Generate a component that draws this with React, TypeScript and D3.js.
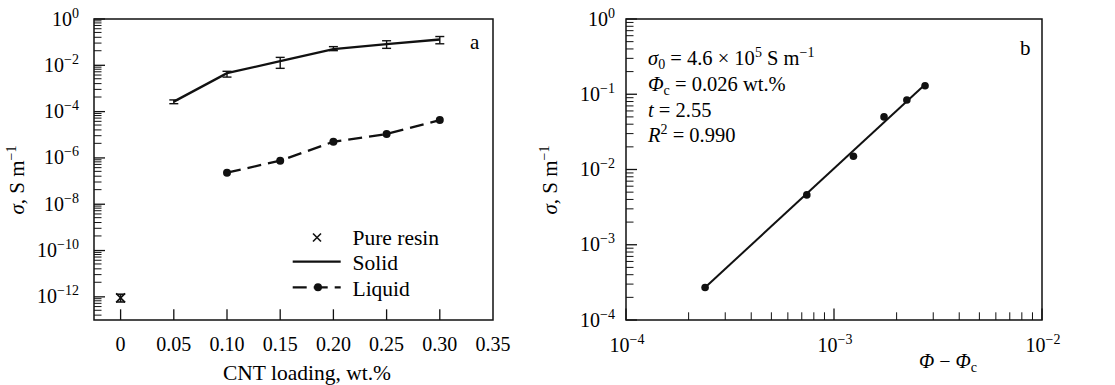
import React from "react";
import * as d3 from "d3";

// ---- Panel a: conductivity vs CNT loading ----
const loading = [0.05, 0.1, 0.15, 0.2, 0.25, 0.3];
const solidSigma = [2.7e-4, 4.6e-3, 1.5e-2, 5.0e-2, 8.3e-2, 1.3e-1];
const solidUpper = [3.2e-4, 5.5e-3, 2.2e-2, 6.4e-2, 1.15e-1, 1.75e-1];
const solidLower = [2.2e-4, 3.1e-3, 7.4e-3, 4.3e-2, 5.4e-2, 8.5e-2];

const liquidLoading = [0.1, 0.15, 0.2, 0.25, 0.3];
const liquidSigma = [2.3e-7, 7.6e-7, 5.0e-6, 1.08e-5, 4.3e-5];

const resinLoading = [0];
const resinSigma = [9e-13];
const resinUpper = [1.3e-12];
const resinLower = [6e-13];

const xTicksA = [0, 0.05, 0.1, 0.15, 0.2, 0.25, 0.3, 0.35];
const xTickLabelsA = ["0", "0.05", "0.10", "0.15", "0.20", "0.25", "0.30", "0.35"];
const yExpA = [0, -2, -4, -6, -8, -10, -12];
// minor tick offsets (in decades) below each labelled decade
const minorOffsetsA = [0.08, 0.17, 0.28, 0.42, 0.58, 0.79, 1.04, 1.37];

const legendLabels = ["Pure resin", "Solid", "Liquid"];

// ---- Panel b: percolation fit ----
const excess = [2.4e-4, 7.4e-4, 1.24e-3, 1.74e-3, 2.24e-3, 2.74e-3];
const sigmaB = [2.7e-4, 4.6e-3, 1.5e-2, 5.0e-2, 8.4e-2, 1.3e-1];
const sigma0 = 4.6e5;
const tExp = 2.55;
const yExpB = [0, -1, -2, -3, -4];
const xExpB = [-4, -3, -2];

const FONT = "Liberation Serif";
const TICK = 20;
const TITLE = 21;
const SUP = 14;

const xA = d3.scaleLinear().domain([-0.025, 0.35]).range([94, 493]);
const yA = d3.scaleLog().domain([1e-13, 1]).range([320, 19]);
const xB = d3.scaleLog().domain([1e-4, 1e-2]).range([626, 1042]);
const yB = d3.scaleLog().domain([1e-4, 1]).range([320, 19]);

function Pow10({ x, y, exp, anchor }: { x: number; y: number; exp: number; anchor: string }) {
  const e = exp < 0 ? "\u2212" + Math.abs(exp) : String(exp);
  return (
    <text x={x} y={y} textAnchor={anchor} fontFamily={FONT} fontSize={TICK}>
      10
      <tspan dy={-8} fontSize={SUP}>{e}</tspan>
    </text>
  );
}

export default function App() {
  const solidLine = d3
    .line<number>()
    .x((_, i) => xA(loading[i]))
    .y((d) => yA(d));
  const liquidLine = d3
    .line<number>()
    .x((_, i) => xA(liquidLoading[i]))
    .y((d) => yA(d));

  const minorA: number[] = [];
  yExpA.forEach((e) => {
    minorOffsetsA.forEach((o) => {
      const v = Math.pow(10, e - o);
      if (v > 1e-13) minorA.push(v);
    });
  });

  const minorYB: number[] = [];
  for (let e = -4; e < 0; e++) for (let m = 2; m <= 9; m++) minorYB.push(m * Math.pow(10, e));
  const minorXB: number[] = [];
  for (let e = -4; e < -2; e++) for (let m = 2; m <= 9; m++) minorXB.push(m * Math.pow(10, e));

  const fitX = [excess[0], excess[excess.length - 1]];
  const fitY = fitX.map((x) => sigma0 * Math.pow(x, tExp));

  const cap = 4.5;
  const rx = xA(resinLoading[0]);
  const ry = yA(resinSigma[0]);

  return (
    <svg width={1115} height={385} style={{ position: "absolute", left: 0, top: 0, background: "#fff" }}>
      <rect x={0} y={0} width={1115} height={385} fill="#fff" />
      {/* ===== Panel a ===== */}
      <g stroke="#111" fill="none">
        <path d="M94,19 H493 V320 H94 Z" strokeWidth={1.5} />
        {yExpA.map((e) => (
          <line key={"ma" + e} x1={94} x2={105} y1={yA(Math.pow(10, e))} y2={yA(Math.pow(10, e))} strokeWidth={1.3} />
        ))}
        {minorA.map((v, i) => (
          <line key={"na" + i} x1={94} x2={101.5} y1={yA(v)} y2={yA(v)} strokeWidth={1} />
        ))}
        {xTicksA.slice(0, -1).map((v) => (
          <line key={"xa" + v} x1={xA(v)} x2={xA(v)} y1={320} y2={309.3} strokeWidth={1.3} />
        ))}
      </g>
      {xTicksA.map((v, i) => (
        <text key={"xl" + v} x={xA(v)} y={351} textAnchor="middle" fontFamily={FONT} fontSize={TICK}>
          {xTickLabelsA[i]}
        </text>
      ))}
      {yExpA.map((e) => (
        <Pow10 key={"yl" + e} x={79} y={yA(Math.pow(10, e)) + 6.5} exp={e} anchor="end" />
      ))}
      <text x={307} y={380} textAnchor="middle" fontFamily={FONT} fontSize={21.5}>
        CNT loading, wt.%
      </text>
      <text transform="translate(24,180) rotate(-90)" textAnchor="middle" fontFamily={FONT} fontSize={TITLE}>
        <tspan fontStyle="italic">σ</tspan>, S m<tspan dy={-8} fontSize={SUP}>−1</tspan>
      </text>
      <text x={470} y={49} fontFamily={FONT} fontSize={21}>a</text>

      {/* solid series with error bars */}
      <path d={solidLine(solidSigma) || ""} stroke="#111" strokeWidth={2.3} fill="none" />
      {loading.map((v, i) => (
        <g key={"eb" + i} stroke="#111" strokeWidth={1.4}>
          <line x1={xA(v)} x2={xA(v)} y1={yA(solidUpper[i])} y2={yA(solidLower[i])} />
          <line x1={xA(v) - cap} x2={xA(v) + cap} y1={yA(solidUpper[i])} y2={yA(solidUpper[i])} />
          <line x1={xA(v) - cap} x2={xA(v) + cap} y1={yA(solidLower[i])} y2={yA(solidLower[i])} />
        </g>
      ))}

      {/* liquid series */}
      <path d={liquidLine(liquidSigma) || ""} stroke="#111" strokeWidth={2.3} fill="none" strokeDasharray="14,7" />
      {liquidLoading.map((v, i) => (
        <circle key={"lq" + i} cx={xA(v)} cy={yA(liquidSigma[i])} r={4} fill="#111" />
      ))}

      {/* pure resin */}
      {resinLoading.map((v, i) => (
        <g key={"rs" + i} stroke="#111" strokeWidth={1.6}>
          <line x1={xA(v)} x2={xA(v)} y1={yA(resinUpper[i])} y2={yA(resinLower[i])} />
          <line x1={xA(v) - cap} x2={xA(v) + cap} y1={yA(resinUpper[i])} y2={yA(resinUpper[i])} />
          <line x1={xA(v) - cap} x2={xA(v) + cap} y1={yA(resinLower[i])} y2={yA(resinLower[i])} />
          <path d={`M${rx - 4.5},${ry - 4.5} L${rx + 4.5},${ry + 4.5} M${rx - 4.5},${ry + 4.5} L${rx + 4.5},${ry - 4.5}`} />
        </g>
      ))}

      {/* legend */}
      <g stroke="#111" strokeWidth={1.6}>
        <path d="M313,233.5 L321,241.5 M313,241.5 L321,233.5" />
      </g>
      <line x1={292.7} x2={340.7} y1={261.7} y2={261.7} stroke="#111" strokeWidth={2.3} />
      <line x1={292.7} x2={340.7} y1={287.3} y2={287.3} stroke="#111" strokeWidth={2.3} strokeDasharray="14,7" />
      <circle cx={318} cy={287.3} r={4} fill="#111" />
      {legendLabels.map((t, i) => (
        <text key={t} x={352.5} y={244.5 + i * 25.5} fontFamily={FONT} fontSize={21.5}>
          {t}
        </text>
      ))}

      {/* ===== Panel b ===== */}
      <g stroke="#111" fill="none">
        <path d="M626,19 H1042 V320 H626 Z" strokeWidth={1.5} />
        {yExpB.map((e) => (
          <line key={"mb" + e} x1={626} x2={637} y1={yB(Math.pow(10, e))} y2={yB(Math.pow(10, e))} strokeWidth={1.3} />
        ))}
        {minorYB.map((v, i) => (
          <line key={"nb" + i} x1={626} x2={633.5} y1={yB(v)} y2={yB(v)} strokeWidth={1} />
        ))}
        {xExpB.map((e) => (
          <line key={"xb" + e} x1={xB(Math.pow(10, e))} x2={xB(Math.pow(10, e))} y1={320} y2={308.5} strokeWidth={1.3} />
        ))}
        {minorXB.map((v, i) => (
          <line key={"nxb" + i} x1={xB(v)} x2={xB(v)} y1={320} y2={312.3} strokeWidth={1} />
        ))}
      </g>
      {yExpB.map((e) => (
        <Pow10 key={"ylb" + e} x={615} y={yB(Math.pow(10, e)) + 6.5} exp={e} anchor="end" />
      ))}
      {xExpB.map((e) => (
        <Pow10 key={"xlb" + e} x={xB(Math.pow(10, e)) + 1} y={351.5} exp={e} anchor="middle" />
      ))}
      <text x={948} y={368} textAnchor="middle" fontFamily={FONT} fontSize={TICK}>
        <tspan fontStyle="italic">Φ</tspan> − <tspan fontStyle="italic">Φ</tspan>
        <tspan dy={4} fontSize={SUP}>c</tspan>
      </text>
      <text transform="translate(557,180) rotate(-90)" textAnchor="middle" fontFamily={FONT} fontSize={TITLE}>
        <tspan fontStyle="italic">σ</tspan>, S m<tspan dy={-8} fontSize={SUP}>−1</tspan>
      </text>
      <text x={1020} y={55} fontFamily={FONT} fontSize={21}>b</text>

      <g fontFamily={FONT} fontSize={20.5}>
        <text x={648} y={65}>
          <tspan fontStyle="italic">σ</tspan>
          <tspan dy={4} fontSize={SUP}>0</tspan>
          <tspan dy={-4}> = 4.6 × 10</tspan>
          <tspan dy={-8} fontSize={SUP}>5</tspan>
          <tspan dy={8}> S m</tspan>
          <tspan dy={-8} fontSize={SUP}>−1</tspan>
        </text>
        <text x={648} y={90.7}>
          <tspan fontStyle="italic">Φ</tspan>
          <tspan dy={4} fontSize={SUP}>c</tspan>
          <tspan dy={-4}> = 0.026 wt.%</tspan>
        </text>
        <text x={648} y={116.7}>
          <tspan fontStyle="italic">t</tspan> = {tExp.toFixed(2)}
        </text>
        <text x={648} y={141.7}>
          <tspan fontStyle="italic">R</tspan>
          <tspan dy={-8} fontSize={SUP}>2</tspan>
          <tspan dy={8}> = 0.990</tspan>
        </text>
      </g>

      <line x1={xB(fitX[0])} y1={yB(fitY[0])} x2={xB(fitX[1])} y2={yB(fitY[1])} stroke="#111" strokeWidth={2} />
      {excess.map((v, i) => (
        <circle key={"pb" + i} cx={xB(v)} cy={yB(sigmaB[i])} r={3.8} fill="#111" />
      ))}
    </svg>
  );
}
